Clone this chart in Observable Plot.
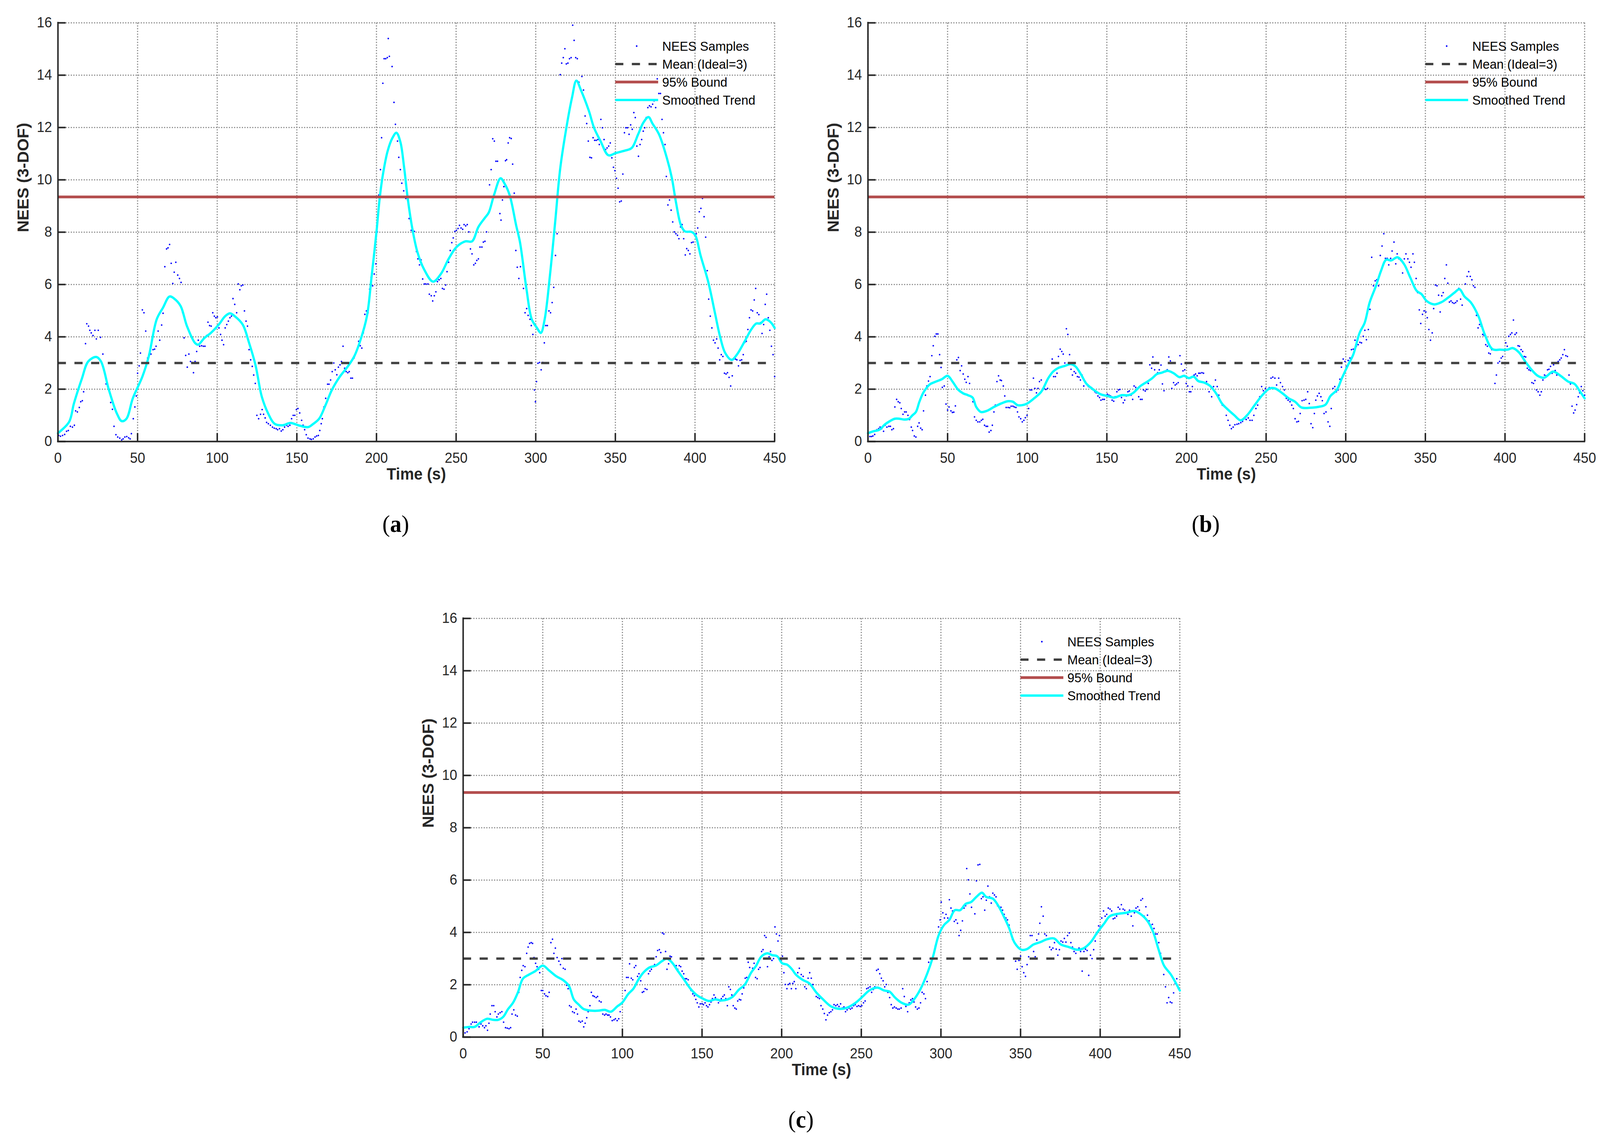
<!DOCTYPE html>
<html>
<head>
<meta charset="utf-8">
<script src="https://cdn.jsdelivr.net/npm/d3@7"></script>
<script src="https://cdn.jsdelivr.net/npm/@observablehq/plot@0.6"></script>
<style>
  html, body { margin: 0; padding: 0; background: #fff; overflow: hidden; }
  #wrap { position: relative; overflow: hidden; width: 4320px; height: 2919px; background: #fff; }
  #page { position: absolute; left: 0; top: 0; width: 4320px; height: 2919px; background: #fff; overflow: hidden; transform-origin: 0 0; }
  .panel { position: absolute; }
  .legend { position: absolute; font-family: 'Liberation Sans', Arial, sans-serif; font-size: 34px; color: #000; }
  .legend .row { position: absolute; left: 0; height: 46px; width: 420px; }
  .legend svg { position: absolute; left: 0; top: 0; }
  .legend span { position: absolute; left: 127px; top: 0; line-height: 46px; white-space: nowrap; }
  .sublabel { position: absolute; transform: translate(-50%, -50%); font-family: 'Liberation Serif', 'DejaVu Serif', serif; font-size: 62px; color: #000; white-space: nowrap; }
  .sublabel b { font-weight: bold; }
</style>
</head>
<body>
<div id="wrap"><div id="page"></div></div>
<script>
// ---------------- data ----------------
const xTicks = [0, 50, 100, 150, 200, 250, 300, 350, 400, 450];
const yTicks = [0, 2, 4, 6, 8, 10, 12, 14, 16];
const meanValue = 3;
const boundValue = 9.348;
const xLabel = "Time (s)";
const yLabel = "NEES (3-DOF)";
const legendLabels = ["NEES Samples", "Mean (Ideal=3)", "95% Bound", "Smoothed Trend"];
const panelLetters = ["a", "b", "c"];

const samplesA = [[0.5,0.23],[1.6,0.2],[2.9,0.23],[4.2,0.27],[5.4,0.39],[6.5,0.42],[7.8,0.58],[9.1,0.55],[10.3,0.62],[11.1,1.17],[12.2,1.13],[13.4,1.3],[14.3,1.52],[15.3,1.56],[16.1,1.9],[17.3,3.74],[18.1,4.5],[19.2,4.41],[20,4.25],[20.9,4.15],[22,4.05],[23.2,4.25],[24.1,3.92],[25.3,4.25],[26.7,3.98],[28.2,3.34],[30.2,2.2],[33.1,1.49],[34.2,1.23],[35.2,0.58],[36.4,0.26],[37.5,0.17],[38.8,0.13],[40,0.06],[40.9,0.1],[42,0.17],[43.2,0.19],[44.4,0.14],[45.3,0.1],[46.1,0.3],[47.3,0.87],[48.3,1.32],[49.2,1.74],[50,2.61],[51,2.89],[51.8,3.38],[53,5.03],[54,4.92],[55.1,4.22],[56.3,3.19],[57.1,3.32],[58.4,3.34],[59.7,3.51],[60.7,3.53],[61.6,3.64],[62.9,4.22],[63.9,3.87],[65.1,4.45],[66,4.9],[67.1,6.68],[68.2,7.36],[69.1,7.4],[70.1,7.53],[71.1,6.81],[72.1,6.04],[73,6.47],[74,6.85],[75.2,6.36],[76.3,6.23],[77.3,6.08],[78.3,4.92],[79.2,3.96],[80.2,3.29],[81.2,2.84],[82.2,3.34],[83.2,3.06],[84.1,3.02],[85.1,2.63],[86.1,3.06],[87.1,3.44],[88.1,3.87],[89,3.64],[90.2,3.66],[91.3,3.64],[92.3,3.64],[93.4,4.05],[94.2,4.56],[95.2,4.43],[96.2,4.41],[97.2,4.92],[98.2,4.79],[99.1,4.73],[100.1,4.76],[101.1,4.34],[102.1,4.09],[103,3.87],[104,3.7],[105,4.34],[106,4.47],[107,4.6],[108,4.73],[108.9,4.79],[109.9,5.46],[111,5.24],[112.2,4.92],[113.2,6.02],[114.2,5.8],[115.1,5.95],[116.1,5.98],[117.1,4.99],[118.1,4.6],[119,4.41],[120,3.51],[121,3.12],[122,2.87],[122.9,2.54],[123.9,2.22],[124.9,1],[126,0.87],[127.2,1.04],[128.2,1.22],[129.1,1.04],[130.1,0.9],[131,0.73],[132.1,0.68],[133.4,0.62],[134.7,0.55],[135.8,0.51],[137,0.49],[137.9,0.45],[139.1,0.49],[140.2,0.4],[141.2,0.45],[142.3,0.55],[143.5,0.62],[144.5,0.58],[145.6,0.62],[146.7,0.87],[147.7,1],[148.7,1],[149.7,1.22],[150.7,1.26],[151.8,1.09],[153,0.81],[153.9,0.62],[154.9,0.45],[155.9,0.26],[157,0.13],[158.2,0.1],[159.1,0.08],[160.3,0.1],[161.4,0.17],[162.4,0.21],[163.5,0.23],[164.4,0.42],[165.3,0.68],[166,0.87],[167,1.32],[168.1,1.65],[169.3,2.19],[170.2,2.19],[171.2,2.35],[172.2,2.67],[173.2,3],[174.1,2.74],[175.1,2.55],[176.1,2.84],[177.1,2.93],[178,3.06],[179,3.64],[180,2.8],[181,2.67],[182,2.63],[182.9,2.67],[183.9,2.42],[184.9,2.42],[185.9,3.19],[186.9,3.38],[187.8,3.51],[188.8,3.83],[189.8,3.66],[190.8,3.57],[191.7,4.15],[192.7,4.86],[193.7,4.99],[194.7,4.92],[195.7,5.82],[196.6,6.27],[197.6,5.95],[198.6,6.4],[199.6,6.79],[200.5,8.01],[201.5,9.42],[202.5,10.39],[203.2,11.61],[204,13.69],[204.8,14.63],[205.8,14.63],[206.8,14.67],[207.4,15.4],[208.1,14.72],[209.8,14.33],[211,12.96],[211.9,12.12],[213.2,11.48],[214,10.86],[215,10.39],[215.9,9.87],[217.1,9.58],[218.4,9.29],[219.5,9.23],[220.5,8.52],[221.8,8.07],[222.8,8.1],[223.8,8.03],[225.1,7.26],[226,6.98],[227,6.75],[228,6.94],[229,6.21],[230,6.02],[231,6.02],[232.3,6.02],[233.2,5.63],[234.4,5.57],[235.3,5.37],[236.3,5.57],[237.3,5.72],[238.3,6.11],[239.3,6.18],[240.4,6.23],[241.4,5.85],[242.4,5.82],[243.4,5.98],[244.3,6.49],[245.3,6.85],[246.3,7.3],[247.3,7.6],[248.2,7.78],[249.2,8.03],[250.2,8.07],[251.2,8.14],[252.1,8.26],[253.1,8.16],[254.1,8.11],[255,8.29],[256,8.24],[257,8.29],[258,8.01],[259,7.36],[260,7.17],[261.1,6.75],[262.1,6.81],[263,6.92],[264,6.98],[265,7.43],[266.2,7.43],[267.1,7.62],[268.1,7.65],[269.1,8.01],[270,8.71],[271,9.81],[272,10.39],[273,11.57],[274,11.48],[275,10.71],[276,10.71],[277.5,8.71],[278.2,8.46],[279.1,9.23],[280,9.74],[281,10.73],[281.7,10.77],[282.7,11.41],[283.6,11.61],[284.6,11.58],[285.5,10.6],[286.5,9.49],[287.5,7.3],[288.4,6.66],[289.4,6.23],[290.4,6.68],[291.4,7.11],[292.3,5.85],[293.3,4.92],[294.3,5.08],[295.2,4.82],[296.4,4.67],[297.2,4.43],[298.2,4.09],[299.2,1.97],[299.8,1.52],[300.5,2.29],[301.4,2.99],[302.4,3.02],[303.4,2.74],[304.4,3.02],[305.4,3.77],[306.3,4.43],[307.3,4.43],[308.3,4.99],[309.3,4.92],[310.3,5.31],[311.3,5.89],[312.4,7.11],[313.4,7.94],[314.4,10],[315.4,14.02],[316.3,14.46],[317.3,14.67],[318.3,15.01],[319.2,14.43],[320.2,14.46],[321.2,14.63],[322.2,14.67],[323.2,15.91],[324.1,15.33],[325.1,14.67],[326.1,14.63],[327.1,13.73],[328.1,13.47],[329,13.95],[330,13.43],[331,12.44],[332,12.15],[333,11.48],[334,10.86],[335,10.84],[336,11.61],[337,11.51],[338,11.51],[339,11.54],[339.9,11.35],[340.9,12.31],[341.9,11.99],[342.9,11.54],[343.9,11.16],[344.8,11.22],[345.8,11.29],[346.8,11.41],[347.8,10.84],[348.8,10.48],[349.7,10.35],[350.7,10.06],[351.7,9.68],[352.7,9.16],[353.7,9.19],[354.7,10.22],[355.7,11.8],[356.6,11.99],[357.6,11.99],[358.6,11.74],[359.6,12.1],[360.6,11.93],[361.6,12.57],[362.5,12.38],[363.5,11.29],[364.5,10.9],[365.5,11.35],[366.5,11.54],[367.5,11.86],[368.4,11.99],[369.4,12.38],[370.4,12.76],[371.4,12.83],[372.4,12.79],[373.4,12.89],[374.3,13.02],[375.3,12.76],[376.3,13.86],[377.3,13.3],[378.3,13.3],[379.3,12.31],[380.2,11.8],[381.2,11.35],[382,10.13],[383,9.04],[384,9.23],[385,8.84],[386,8.39],[387,8.01],[388,7.94],[389,7.88],[389.9,7.75],[390.9,8.2],[391.9,8.29],[392.9,7.75],[393.9,7.13],[394.8,7.37],[395.8,7.3],[396.8,7.17],[397.8,7.6],[398.8,7.62],[399.8,7.88],[400.8,7.94],[401.7,8.16],[402.7,8.78],[403.7,8.91],[404.7,9.29],[405.7,8.59],[406.7,7.81],[407.7,6.53],[408.6,5.44],[409.6,4.79],[410.6,4.34],[411.6,3.87],[412.6,3.77],[413.6,3.92],[414.5,3.57],[415.5,3.12],[416.5,3.32],[417.5,3.25],[418.5,2.61],[419.5,2.58],[420.4,2.63],[421.4,2.45],[422.4,2.12],[423.4,2.51],[424.4,3.19],[425.4,3.15],[426.3,3.12],[427.3,2.89],[428.3,3.1],[429.3,3.12],[430.3,3.32],[431.3,3.79],[432.2,3.83],[433.2,4.28],[434.2,4.73],[435.2,5.03],[436.2,4.99],[437.2,5.41],[438.1,5.85],[439.1,4.92],[440.1,4.85],[441.1,4.54],[442.1,4.13],[443.1,4.47],[444.1,5.24],[445,5.63],[446,4.73],[447,4.25],[448,3.64],[449,3.32],[450,2.48]];

const trendA = [[0,0.32],[7,0.75],[10,1.45],[15,2.4],[19,3.06],[24,3.23],[27,3.06],[32,1.97],[37,1.07],[40,0.78],[43,0.87],[47,1.65],[53,2.48],[57,3.25],[62,4.67],[66,5.12],[70,5.54],[73,5.46],[77,5.18],[81,4.41],[86,3.77],[88,3.7],[92,3.96],[96,4.15],[101,4.47],[105,4.79],[108,4.9],[111,4.79],[116,4.47],[120,3.77],[124,2.93],[128,1.71],[132,1.07],[136,0.68],[141,0.62],[146,0.71],[151,0.62],[157,0.55],[160,0.66],[164,0.87],[168,1.39],[172,1.97],[177,2.48],[182,2.87],[186,3.25],[190,3.89],[194,4.79],[197,6.34],[200,8.01],[202,9.29],[204,10.19],[207,11.1],[210,11.6],[212.5,11.8],[215,11.45],[217.3,10.5],[219.6,9.3],[222.5,8.14],[225.7,7.24],[229.8,6.59],[235.5,6.11],[240.4,6.4],[245.3,6.98],[250.2,7.43],[255.9,7.65],[260,7.65],[264,8.2],[268.1,8.55],[270.5,8.75],[273.8,9.42],[277.9,10.06],[280.3,9.87],[283.6,9.42],[287.7,8.26],[290.1,7.62],[294.2,5.82],[297.5,4.67],[300.8,4.34],[303.2,4.15],[305.6,4.67],[308.9,6.34],[312.2,8.39],[315.4,10.45],[319.6,12.12],[322.8,13.15],[325.5,13.79],[328.5,13.41],[333.4,12.63],[336.6,11.99],[340.7,11.48],[345.6,10.94],[350.5,11.03],[356.2,11.12],[360.3,11.22],[364.3,11.74],[367.6,12.19],[370.8,12.4],[373.3,12.15],[377.4,11.74],[382.3,10.84],[385.5,10.06],[388,9.16],[391.2,8.26],[393.7,8.03],[397.8,8.01],[400.2,7.88],[403.5,7.11],[408.4,6.08],[412.5,4.92],[415.7,4.02],[419,3.38],[423,3.12],[426.3,3.32],[431.2,3.83],[435.3,4.28],[438.5,4.51],[441,4.51],[444.3,4.67],[447.5,4.56],[450,4.34]];

const samplesB = [[0,0.08],[1.2,0.19],[2.2,0.19],[3.1,0.21],[4.2,0.27],[5.6,0.45],[6.7,0.49],[7.6,0.55],[8.6,0.49],[9.8,0.39],[10.8,0.62],[11.9,0.55],[13.1,0.58],[14.1,0.58],[15,0.45],[16,0.49],[16.9,1.32],[18,1.61],[19,1.52],[20,1.48],[20.9,1.26],[22,1.04],[23,1.13],[24,1.13],[25.1,1],[26.1,0.84],[27.2,0.55],[28,0.42],[29.1,0.21],[30.1,0.17],[31.2,0.58],[32.1,0.71],[33.1,0.51],[34,0.45],[34.9,1.17],[36.1,1.77],[37,2.12],[38,2.31],[39,2.48],[40.1,3.28],[41,3.66],[42,4.02],[42.9,4.11],[43.9,4.11],[45,3.32],[45.9,2.83],[46.7,2.07],[47.9,2.12],[49,1.43],[50,1.2],[50.9,1.32],[52.1,1.17],[53,1.11],[53.9,1.12],[54.9,1.36],[55.8,3.12],[56.8,3.21],[57.9,2.71],[58.8,2.89],[59.8,2.58],[60.8,2.38],[61.7,2.26],[62.8,2.48],[63.8,2.22],[65,1.71],[65.9,1.52],[66.9,0.94],[68,0.81],[69,0.75],[70.2,0.75],[71.2,0.81],[72.1,0.85],[73.2,0.62],[74.2,0.58],[75.1,0.58],[76.1,0.36],[77.2,0.42],[78.1,0.62],[79.1,1.13],[80,1.39],[81,2.29],[82,2.51],[83,2.35],[83.8,2.33],[85,2.12],[85.9,1.74],[86.8,1.3],[88,1.3],[89,1.29],[89.9,1.35],[91,1.35],[91.9,1.32],[92.9,1.3],[93.9,1.13],[94.8,0.94],[95.9,0.87],[96.9,0.75],[97.9,0.81],[98.8,0.91],[99.9,1],[100.9,1.26],[101.8,1.97],[102.8,1.97],[103.9,2.42],[104.8,2.03],[105.8,1.86],[106.8,2.03],[107.7,2.29],[108.8,2.35],[109.8,1.97],[110.7,2.03],[111.7,1.99],[112.8,2.03],[113.7,2.48],[114.7,2.54],[115.7,3.15],[116.6,2.48],[117.7,2.48],[118.7,2.61],[119.6,3.25],[120.7,3.53],[121.7,3.44],[122.6,3.34],[123.6,3],[124.6,4.31],[125.5,4.09],[126.6,3.32],[127.5,2.76],[128.4,2.54],[129.5,2.67],[130.4,2.61],[131.5,2.48],[132.5,2.46],[133.4,2.35],[134.4,2.54],[135.5,2.12],[136.5,2.29],[137.4,2.2],[138.4,2.1],[139.5,2.07],[140.4,2.06],[141.4,1.97],[142.5,1.9],[143.3,1.86],[144.4,1.74],[145.4,1.68],[146.3,1.58],[147.4,1.61],[148.4,1.61],[149.3,1.74],[150.3,1.81],[151.3,1.77],[152.3,1.74],[153.3,1.58],[154.3,1.54],[155.2,1.71],[156.3,1.9],[157.3,1.97],[158.2,1.99],[159.2,1.68],[160.3,1.48],[161.2,1.58],[162.2,1.74],[163.2,1.9],[164.1,1.93],[165.2,1.77],[166.2,1.61],[167.1,2.12],[168.1,2.07],[169.1,2.03],[170,1.71],[171.1,1.61],[172.1,1.61],[173,1.97],[174.1,1.93],[175.1,1.99],[176,2.22],[177,2.93],[178.1,2.8],[178.9,3.23],[180,2.74],[181,3.02],[181.9,2.63],[182.9,2.74],[184,2.92],[184.9,2.2],[185.9,1.94],[186.9,2.67],[187.9,2.74],[188.9,3.23],[189.9,3.08],[190.8,2.03],[191.9,2.25],[192.9,2.16],[193.8,2.2],[194.8,2.25],[195.9,3.28],[196.8,2.96],[197.8,2.7],[198.9,2.74],[199.8,2.22],[200.8,2.12],[201.8,1.9],[202.7,1.9],[203.7,2.1],[204.8,2.54],[205.7,2.58],[206.7,2.51],[207.7,2.61],[208.6,2.61],[209.7,2.63],[210.7,2.61],[212.6,2.29],[214.2,1.9],[215.8,1.71],[217,2.1],[218.2,2.35],[219.3,2.1],[220.3,1.77],[221.4,1.52],[222.5,1.39],[223.7,1.35],[225,1],[226.1,0.81],[227.2,0.62],[228.2,0.49],[229.3,0.55],[230.4,0.64],[231.7,0.66],[232.8,0.68],[234.1,0.72],[235.2,0.77],[236.4,0.87],[237.5,0.84],[238.8,0.9],[239.9,0.81],[241.2,0.81],[242.3,1],[243.6,1.26],[244.7,1.39],[246,1.71],[247.2,2.1],[248.3,1.94],[249.6,2.03],[250.7,1.97],[252,2.06],[253.1,2.42],[254.2,2.46],[255.5,2.42],[256.6,2.16],[257.9,2.42],[259,2.25],[260.3,2.1],[261.5,1.97],[262.7,1.65],[263.8,1.58],[265,1.52],[266.1,1.39],[267.1,1.26],[268.2,0.87],[269.3,0.75],[270.3,0.77],[271.4,1.07],[272.6,1.56],[273.8,1.58],[274.9,1.61],[276.1,1.9],[277.1,1.45],[278.2,0.68],[279.3,0.53],[280.3,1.07],[281.2,1.58],[282.2,1.74],[283.3,1.84],[284.4,1.71],[285.3,1.56],[286.4,1.07],[287.6,1.13],[288.9,0.75],[290,0.58],[290.9,1.26],[292,2.03],[293.1,2.1],[294.1,1.9],[295.2,1.97],[296.3,2.38],[297.3,2.84],[298.4,3.15],[299.5,3.06],[300.4,2.87],[301.5,3.1],[302.6,3.19],[303.6,3.51],[304.7,3.53],[305.8,3.87],[306.7,3.64],[307.8,3.7],[308.9,3.79],[309.9,3.77],[311,4.02],[312,4.25],[313,3.89],[314.2,4.28],[315.2,5.05],[316.3,7.04],[317.4,5.95],[318.5,6.14],[319.5,6.18],[320.6,5.95],[321.7,7.11],[322.8,7.47],[323.9,7.94],[324.9,7],[326,7],[327,6.75],[328.2,7],[329.1,7.28],[330.3,7.62],[331.4,6.79],[332.3,7.17],[333.4,6.98],[334.5,6.92],[335.7,6.44],[336.8,6.98],[337.8,7.17],[339,6.98],[340,6.85],[341,6.66],[342.2,7.17],[343.1,6.85],[344.2,6.23],[345.2,5.69],[346.2,5.03],[347.1,4.51],[348.2,4.86],[349.2,4.99],[350.3,4.95],[351.2,4.73],[352.2,4.28],[353.2,3.87],[354.3,4.15],[355.2,5.08],[356.3,5.98],[357.3,5.95],[358.3,5.59],[359.3,4.95],[360.3,5.57],[361.2,5.69],[362.2,6.23],[363.2,6.75],[364.1,6.05],[365.1,5.33],[366.1,5.37],[367,5.31],[368,5.28],[369,5.31],[369.9,5.37],[371,5.85],[372.1,5.44],[373.1,5.21],[374.1,5.57],[375.1,6.02],[376.2,6.31],[377.2,6.49],[378.2,6.31],[379.2,6.18],[380.2,5.95],[381.1,5.89],[382.1,4.82],[383.1,4.34],[384,4.47],[385,4.41],[386,4.09],[386.9,4.05],[387.9,3.7],[388.9,3.64],[389.8,3.38],[390.8,3.35],[391.7,3.51],[392.7,3.51],[393.7,2.22],[394.6,2.54],[395.6,3],[396.6,3.06],[397.6,3.19],[398.5,3.25],[399.5,3.48],[400.5,3.77],[401.4,3.64],[402.4,4.02],[403.4,4.09],[404.3,4.15],[405.3,4.64],[406.3,4.09],[407.2,4.15],[408.2,3.66],[409.1,3.64],[410.1,3.51],[411.1,3.44],[412.1,3.25],[413,3.23],[414,2.8],[415,2.74],[416,2.71],[416.9,2.25],[417.9,2.22],[418.8,2.33],[419.8,1.97],[420.8,1.9],[421.9,1.77],[422.8,1.9],[423.8,2.35],[424.8,2.54],[425.7,2.51],[426.7,2.74],[427.6,2.76],[428.6,2.87],[429.6,2.61],[430.5,2.93],[431.5,2.71],[432.5,2.54],[433.4,3.06],[434.4,3.12],[435.3,3.19],[436.3,3.32],[437.3,3.51],[438.2,3.28],[439.2,3.25],[440.2,2.54],[441.1,2.2],[442.1,1.35],[443.1,1.09],[444,1.2],[445,1.41],[446,1.71],[446.9,1.86],[447.9,2.1],[448.9,1.94],[450,1.77]];

const trendB = [[0,0.32],[3.4,0.39],[7.1,0.45],[10.8,0.66],[13.8,0.78],[16.8,0.87],[19.7,0.87],[22.7,0.84],[25.7,0.87],[27.9,1],[30.1,1.13],[32.3,1.52],[34.6,1.85],[36.8,2.05],[39,2.19],[42.7,2.29],[46.4,2.38],[50,2.51],[53.1,2.29],[56.8,1.97],[59.8,1.84],[62.8,1.77],[65.7,1.68],[68,1.32],[70.9,1.13],[74.6,1.17],[79.1,1.32],[83.5,1.45],[88,1.54],[91,1.52],[93.9,1.39],[96.9,1.39],[99.9,1.45],[104.3,1.65],[108.8,1.9],[113.2,2.42],[116.2,2.67],[119.2,2.8],[123.6,2.89],[127.3,2.96],[130.3,2.87],[134,2.54],[137,2.22],[141.4,1.99],[145.9,1.81],[150.3,1.74],[154.8,1.68],[159.2,1.77],[163.7,1.77],[166.6,1.86],[171.1,2.12],[175.5,2.29],[178.5,2.42],[181.5,2.58],[184.4,2.63],[188.2,2.7],[191.9,2.61],[195.6,2.46],[198.5,2.51],[201.5,2.42],[204.5,2.48],[207.4,2.31],[211.2,2.25],[214.9,2.12],[218.6,1.84],[222.3,1.45],[225.3,1.26],[230.1,1],[234,0.81],[238,1],[242.8,1.39],[247.6,1.77],[252.3,2.03],[255.5,2.03],[260.3,1.84],[264.2,1.65],[268.2,1.52],[272.2,1.3],[277.7,1.29],[282.5,1.32],[287.3,1.41],[290.4,1.74],[294.4,1.97],[297.6,2.42],[301.5,2.93],[304.7,3.32],[308.7,4.15],[311.9,4.54],[315,5.31],[319,5.95],[322.2,6.53],[325.4,6.95],[328.5,6.92],[332.5,7.04],[336.5,6.79],[340.5,6.27],[344.5,5.76],[347.6,5.63],[350.8,5.37],[355.6,5.24],[360.3,5.33],[364.3,5.5],[368.3,5.69],[371.4,5.82],[374.6,5.54],[378.6,5.31],[383.3,4.79],[387.3,4.09],[392.1,3.53],[396.8,3.51],[401.6,3.51],[404.8,3.57],[408.7,3.41],[412.7,3.06],[416.7,2.74],[420.6,2.51],[424.6,2.44],[430.2,2.67],[434.9,2.51],[439.7,2.29],[443.7,2.2],[446.8,1.94],[450,1.65]];

const samplesC = [[0,0.09],[1.2,0.16],[2.5,0.2],[3.7,0.32],[5,0.5],[5.9,0.57],[7.2,0.57],[8.3,0.57],[10,0.39],[11.2,0.5],[12.3,0.43],[13.4,0.36],[14.3,0.43],[15.3,0.26],[16.2,0.53],[17,0.88],[18.1,1.2],[19.2,1.2],[20.1,0.97],[21.2,0.77],[22.1,0.88],[23.2,0.93],[24.3,0.97],[25.4,0.57],[26.6,0.36],[27.7,0.34],[28.8,0.32],[29.8,0.36],[30.7,0.88],[31.8,1.04],[32.9,0.84],[34,0.8],[34.9,1.71],[35.8,2.28],[36.8,2.55],[37.7,2.73],[38.8,2.69],[39.9,3.2],[40.8,3.44],[41.7,3.58],[42.7,3.61],[43.6,3.58],[44.5,3.04],[45.5,2.82],[46.4,2.69],[47.4,2.59],[48.1,2.46],[49.1,1.78],[50,1.78],[51.1,1.65],[52,1.58],[53.1,1.55],[54,1.71],[55.1,3.61],[56.1,3.74],[57,3.2],[57.9,3.4],[59,3.04],[60.1,2.9],[61.1,2.77],[62,3],[62.9,2.63],[64,2.59],[65,1.98],[65.9,1.85],[66.8,1.2],[67.8,1.15],[68.7,0.97],[69.8,0.93],[70.9,1.07],[71.8,0.88],[72.7,0.61],[73.7,0.57],[74.8,0.61],[75.7,0.39],[76.6,0.53],[77.6,0.74],[78.5,0.97],[79.6,1.2],[80.5,1.71],[81.5,1.58],[82.4,1.55],[83.5,1.51],[84.4,1.55],[85.5,1.38],[86.6,1.34],[87.7,0.88],[88.8,0.84],[89.7,0.88],[90.7,0.84],[91.6,0.84],[92.5,0.77],[93.6,0.63],[94.7,0.66],[95.6,0.7],[96.7,0.63],[97.7,0.7],[98.6,0.97],[99.7,1.31],[100.6,1.38],[101.7,1.78],[102.6,2.28],[103.6,2.28],[104.5,2.8],[105.6,2.25],[106.5,2.19],[107.5,2.66],[108.4,2.73],[109.5,2.32],[110.4,2.42],[111.5,2.15],[112.5,1.71],[113.4,1.74],[114.3,1.85],[115.4,1.82],[116.4,2.42],[117.3,2.52],[118.2,2.59],[119.3,2.69],[120.2,2.77],[121.2,3.07],[122.1,3.31],[123.2,3.34],[124.1,3.23],[125.1,3.98],[126,3.94],[127.1,3.27],[128,2.59],[129,2.8],[129.9,3.09],[130.8,3.07],[131.9,2.8],[132.9,2.69],[133.8,2.73],[134.7,2.59],[135.7,2.73],[136.6,2.69],[137.5,2.52],[138.5,2.42],[139.4,2.23],[140.3,2.23],[141.3,2.19],[142.2,1.88],[143.1,1.78],[144.2,1.65],[145.2,1.58],[146.1,1.44],[147,1.31],[148,1.15],[148.9,1.27],[150,1.28],[150.9,1.24],[151.9,1.31],[152.8,1.2],[153.7,1.15],[154.7,1.24],[155.6,1.34],[156.5,1.47],[157.5,1.61],[158.4,1.51],[159.3,1.42],[160.3,1.31],[161.2,1.38],[162.1,1.47],[163.1,1.55],[164,1.61],[164.9,1.47],[165.9,1.2],[166.8,1.92],[167.8,1.82],[168.7,1.61],[169.6,1.2],[170.6,1.11],[171.5,1.07],[172.4,1.38],[173.4,1.44],[174.3,1.42],[175.2,1.65],[176.2,1.88],[177.1,2.25],[178,2.28],[179,2.86],[179.9,2.66],[180.8,2.46],[181.8,2.63],[182.7,2.82],[183.6,2.28],[184.6,2.23],[185.5,2.59],[186.4,2.66],[187.4,3.27],[188.3,3.34],[189.3,3.88],[190.2,3.81],[191.1,2.69],[192.1,3.07],[193,3.27],[193.9,2.93],[194.9,3],[195.8,4.21],[196.7,3.94],[197.7,3.67],[198.6,3.88],[199.5,2.93],[200.5,3.09],[201.4,2.46],[202.3,2.01],[203.3,1.85],[204.2,2.01],[205.1,2.05],[206.1,1.85],[207,2.05],[207.9,2.12],[208.9,1.85],[210.1,2.46],[211.1,2.63],[212.3,2.39],[213.5,2.32],[214.5,1.92],[215.5,1.85],[216.6,2.25],[217.6,2.46],[218.6,2.25],[219.6,2.01],[220.7,1.78],[221.7,1.55],[222.7,1.51],[223.7,1.47],[224.7,1.2],[225.8,1.07],[226.8,0.9],[227.8,0.66],[228.8,0.84],[229.9,0.93],[230.9,0.97],[231.9,1.04],[232.9,1.24],[234,1.2],[235,1.24],[236,1.17],[237,1.27],[238.1,1.11],[239.1,1.15],[240.1,0.97],[241.1,1.04],[242.2,1.11],[243.2,1.07],[244.2,1.11],[245.2,1.2],[246.2,1.24],[247.3,1.17],[248.3,1.2],[249.3,1.17],[250.3,1.2],[251.4,1.31],[252.4,1.38],[253.4,1.85],[254.4,1.88],[255.5,1.92],[256.5,1.71],[257.5,1.82],[258.5,1.92],[259.6,2.55],[260.6,2.59],[261.6,2.42],[262.6,2.25],[263.7,2.15],[264.7,1.92],[265.7,2.01],[266.7,1.71],[267.8,1.51],[268.8,1.24],[269.8,1.11],[270.8,1.15],[271.9,1.11],[272.9,1.07],[273.9,1.07],[275,1.11],[276,1.85],[277,1.55],[278,1.17],[279.1,0.97],[280.1,1.31],[281.1,1.42],[282.1,1.47],[283.1,1.34],[284.1,1.15],[285.2,1.07],[286.2,1.11],[287.2,1.31],[288.2,1.71],[289.3,1.65],[290.3,1.47],[291.3,2.12],[292.3,2.86],[293.3,3],[294.4,3],[295.4,3.2],[296.4,3.47],[297.4,3.67],[298.5,4.21],[299.5,4.48],[300.2,5.16],[301.2,4.75],[302.2,4.55],[303.2,4.69],[304.3,4.55],[305.3,5.25],[306.3,4.93],[307.3,4.82],[308.4,4.42],[309.4,4.48],[310.4,4.35],[311.4,3.88],[312.4,4.08],[313.5,4.44],[314.5,4.93],[315.5,5.02],[316.2,6.44],[317.2,6.01],[318.2,5.47],[319.2,4.96],[320.3,5.25],[321.3,4.71],[322.3,5.97],[323.3,6.58],[324.4,6.6],[325.4,5.29],[326.4,5.36],[327.5,4.85],[328.5,5.23],[329.5,5.77],[330.5,5.36],[331.6,5.12],[332.6,5.5],[333.6,5.43],[334.6,5.36],[335.6,5.02],[336.7,4.96],[337.7,4.96],[338.7,4.85],[339.7,4.69],[340.8,4.55],[341.8,4.48],[342.8,4.28],[343.8,3.98],[344.9,3.74],[345.9,3],[346.9,2.9],[347.9,2.59],[349,2.93],[350,3.09],[351,2.69],[352,2.46],[353.1,2.32],[354.1,2.77],[355.1,3.07],[356.1,3.88],[357.2,3.88],[358.2,3.27],[359.2,3.07],[360.2,3.71],[361.3,3.94],[362.1,4.35],[363.1,4.98],[364.2,4.62],[365.2,3.94],[366.2,3.88],[367.3,3.74],[368.3,3.44],[369.3,3.34],[370.3,3.4],[371.3,3.61],[372.4,3.36],[373.4,3.13],[374.4,3.34],[375.4,3.67],[376.5,3.63],[377.5,3.77],[378.5,3.63],[379.5,3.88],[380.6,3.98],[381.6,3.61],[382.6,3.44],[383.6,3.27],[384.7,3.2],[385.7,3.34],[386.7,3.4],[387.7,3.27],[388.7,2.52],[389.8,3.27],[390.8,3.36],[391.8,3.31],[392.8,2.36],[393.9,3.13],[394.9,3],[395.9,3.34],[396.9,3.67],[397.9,3.94],[399,4.25],[400,4.21],[401,4.55],[402.1,4.82],[403.1,4.62],[404.1,4.69],[405.1,4.93],[406.2,4.89],[407.2,4.82],[408.2,4.52],[409.2,4.55],[410.3,4.62],[411.3,4.96],[412.3,4.89],[413.3,5.06],[414.4,4.89],[415.4,4.85],[416.4,4.75],[417.4,4.69],[418.4,4.85],[419.5,4.62],[420.5,4.25],[421.5,4.75],[422.5,4.93],[423.6,4.98],[424.6,4.85],[425.6,5.23],[426.6,5.29],[427.6,4.62],[428.7,4.98],[429.7,4.66],[430.7,4.44],[431.8,4.28],[432.8,4.31],[433.8,4.15],[434.8,3.94],[435.8,3.94],[436.8,3.61],[437.9,3.2],[438.9,2.93],[439.9,2.39],[441,1.92],[442,1.31],[443,1.51],[444,1.34],[445,1.31],[446.1,1.69],[447.1,2.05],[448.1,2.23],[449.1,1.85]];

const trendC = [[0,0.36],[4,0.39],[7.2,0.39],[11.1,0.57],[15,0.7],[18.8,0.66],[22,0.66],[25.1,0.77],[28.2,1.07],[31.3,1.31],[34.4,1.71],[37.5,2.23],[41.4,2.39],[45.3,2.52],[50,2.73],[53.9,2.55],[58.6,2.32],[62.5,2.19],[66.4,1.96],[69.5,1.44],[72.6,1.24],[75.7,1.07],[80.4,1.01],[85,1.01],[88.9,1.04],[92.8,0.97],[96.7,1.17],[99.8,1.31],[103.7,1.65],[106.9,1.85],[110,2.19],[113.1,2.46],[117,2.66],[120.9,2.73],[124.8,2.9],[127.9,3],[131,2.86],[134.9,2.52],[138.8,2.19],[142.7,1.85],[146.6,1.61],[150.5,1.47],[154.4,1.38],[158.3,1.44],[162.1,1.4],[166,1.44],[169.2,1.54],[173.1,1.81],[176.9,2.01],[180.8,2.46],[184,2.73],[187.1,3.07],[191,3.2],[194.1,3.13],[197.2,3.09],[200.3,2.82],[203.4,2.77],[206.5,2.59],[208.9,2.39],[213.1,2.19],[217.4,2.05],[221.7,1.71],[226,1.44],[231.1,1.17],[236.2,1.08],[241.3,1.13],[246.4,1.31],[250.7,1.54],[255,1.78],[260.1,1.89],[264.3,1.78],[267.7,1.74],[271.2,1.51],[275.4,1.31],[279.7,1.24],[283.1,1.44],[287.3,1.85],[291.6,2.46],[295,3.07],[298.5,3.88],[301.9,4.28],[305.3,4.48],[308.7,4.85],[312.1,4.85],[315.5,5.09],[318.9,5.16],[322.3,5.36],[325.8,5.52],[328.3,5.36],[332.6,5.29],[336,5.02],[339.4,4.62],[342.8,4.17],[346.2,3.61],[350.5,3.34],[353.9,3.36],[358.2,3.54],[362.5,3.63],[366.7,3.74],[371,3.77],[375.3,3.54],[380.4,3.44],[385.5,3.34],[389.8,3.4],[394.1,3.63],[398.3,4.01],[402.6,4.35],[406,4.62],[411.1,4.71],[416.3,4.75],[421.4,4.82],[425.6,4.69],[429.9,4.42],[433.3,4.01],[436.7,3.34],[440.1,2.73],[444.4,2.39],[450,1.78]];

// ---------------- layout / style ----------------
const PAGE_W = 4320, PAGE_H = 2919;
const FW = 1935, FH = 1072;            // frame size (px)
const M = {left: 156, top: 58, right: 40, bottom: 170};
const panels = [
  {letter: panelLetters[0], samples: samplesA, trend: trendA, frameLeft: 156,  frameTop: 58},
  {letter: panelLetters[1], samples: samplesB, trend: trendB, frameLeft: 2343, frameTop: 58},
  {letter: panelLetters[2], samples: samplesC, trend: trendC, frameLeft: 1250, frameTop: 1583}
];
const C = {axis: "#262626", grid: "#8c8c8c", dots: "#0000ff", mean: "#404040", bound: "#b34d4d", trend: "#00ffff"};

const wrap = document.getElementById("wrap");
const page = document.getElementById("page");

function buildPanel(p) {
  const chart = Plot.plot({
    width: FW + M.left + M.right,
    height: FH + M.top + M.bottom,
    marginLeft: M.left, marginRight: M.right, marginTop: M.top, marginBottom: M.bottom,
    x: {domain: [0, 450]},
    y: {domain: [0, 16]},
    style: {fontFamily: "'Liberation Sans', Arial, sans-serif", fontSize: "37px", color: C.axis, background: "none", overflow: "visible", maxWidth: "none"},
    marks: [
      Plot.gridX(xTicks, {stroke: C.grid, strokeOpacity: 1, strokeWidth: 3, strokeDasharray: "3,4"}),
      Plot.gridY(yTicks, {stroke: C.grid, strokeOpacity: 1, strokeWidth: 3, strokeDasharray: "3,4"}),
      Plot.dot(p.samples, {x: d => d[0], y: d => d[1], r: 2.1, fill: C.dots, stroke: null}),
      Plot.line(p.trend, {x: d => d[0], y: d => d[1], stroke: C.trend, strokeWidth: 6, curve: "catmull-rom"}),
      Plot.ruleY([meanValue], {stroke: C.mean, strokeWidth: 6, strokeDasharray: "22,23"}),
      Plot.ruleY([boundValue], {stroke: C.bound, strokeWidth: 7}),
      Plot.tickX(xTicks, {x: d => d, insetTop: FH - 21, stroke: C.axis, strokeWidth: 4}),
      Plot.tickY(yTicks, {y: d => d, insetRight: FW - 21, stroke: C.axis, strokeWidth: 4}),
      Plot.ruleX([0], {stroke: C.axis, strokeWidth: 4, strokeLinecap: "square"}),
      Plot.ruleY([0], {stroke: C.axis, strokeWidth: 4, strokeLinecap: "square"}),
      Plot.axisX(xTicks, {tickSize: 0, tickPadding: 28, label: null, tickFormat: d => String(d), fontSize: 37, fill: C.axis}),
      Plot.axisY(yTicks, {tickSize: 0, tickPadding: 16, label: null, tickFormat: d => String(d), fontSize: 37, fill: C.axis}),
      Plot.text([xLabel], {text: d => d, frameAnchor: "bottom", dy: 97, fontWeight: "bold", fontSize: 42, fill: C.axis}),
      Plot.text([yLabel], {text: d => d, frameAnchor: "left", dx: -93, rotate: -90, fontWeight: "bold", fontSize: 42, fill: C.axis})
    ]
  });
  const holder = document.createElement("div");
  holder.className = "panel";
  holder.style.left = (p.frameLeft - M.left) + "px";
  holder.style.top = (p.frameTop - M.top) + "px";
  holder.appendChild(chart);
  page.appendChild(holder);

  // legend (inside the axes, top right)
  const lg = document.createElement("div");
  lg.className = "legend";
  lg.style.left = (p.frameLeft + 1505) + "px";
  lg.style.top = (p.frameTop + 37) + "px";
  const swatches = [
    `<circle cx="58" cy="23" r="2.2" fill="${C.dots}"/>`,
    `<line x1="0" x2="114" y1="23" y2="23" stroke="${C.mean}" stroke-width="6" stroke-dasharray="22,23"/>`,
    `<line x1="0" x2="116" y1="23" y2="23" stroke="${C.bound}" stroke-width="7"/>`,
    `<line x1="0" x2="116" y1="23" y2="23" stroke="${C.trend}" stroke-width="6"/>`
  ];
  legendLabels.forEach((lab, i) => {
    const row = document.createElement("div");
    row.className = "row";
    row.style.top = (i * 46) + "px";
    row.innerHTML = `<svg width="120" height="46">${swatches[i]}</svg><span>${lab}</span>`;
    lg.appendChild(row);
  });
  page.appendChild(lg);

  // sub-figure label
  const sl = document.createElement("div");
  sl.className = "sublabel";
  sl.style.left = (p.frameLeft + FW / 2 - 55) + "px";
  sl.style.top = (p.frameTop + FH + 211) + "px";
  sl.innerHTML = `(<b>${p.letter}</b>)`;
  page.appendChild(sl);
}

panels.forEach(buildPanel);

// fit the 4320x2919 composition to the viewport the page is actually given
// (per-axis, so the whole figure fills the photographed area like the reference)
function fitPage() {
  const vw = window.innerWidth || document.documentElement.clientWidth;
  const vh = window.innerHeight || document.documentElement.clientHeight;
  let sx = vw / PAGE_W, sy = vh / PAGE_H;
  if (!(sx > 0)) sx = 1;
  if (!(sy > 0)) sy = 1;
  if (Math.abs(sx - 1) < 0.002) sx = 1;
  if (Math.abs(sy - 1) < 0.002) sy = 1;
  page.style.transform = (sx === 1 && sy === 1) ? "none" : `scale(${sx}, ${sy})`;
  wrap.style.width = Math.floor(PAGE_W * sx) + "px";
  wrap.style.height = Math.floor(PAGE_H * sy) + "px";
}
fitPage();
window.addEventListener("resize", fitPage);
</script>
</body>
</html>
